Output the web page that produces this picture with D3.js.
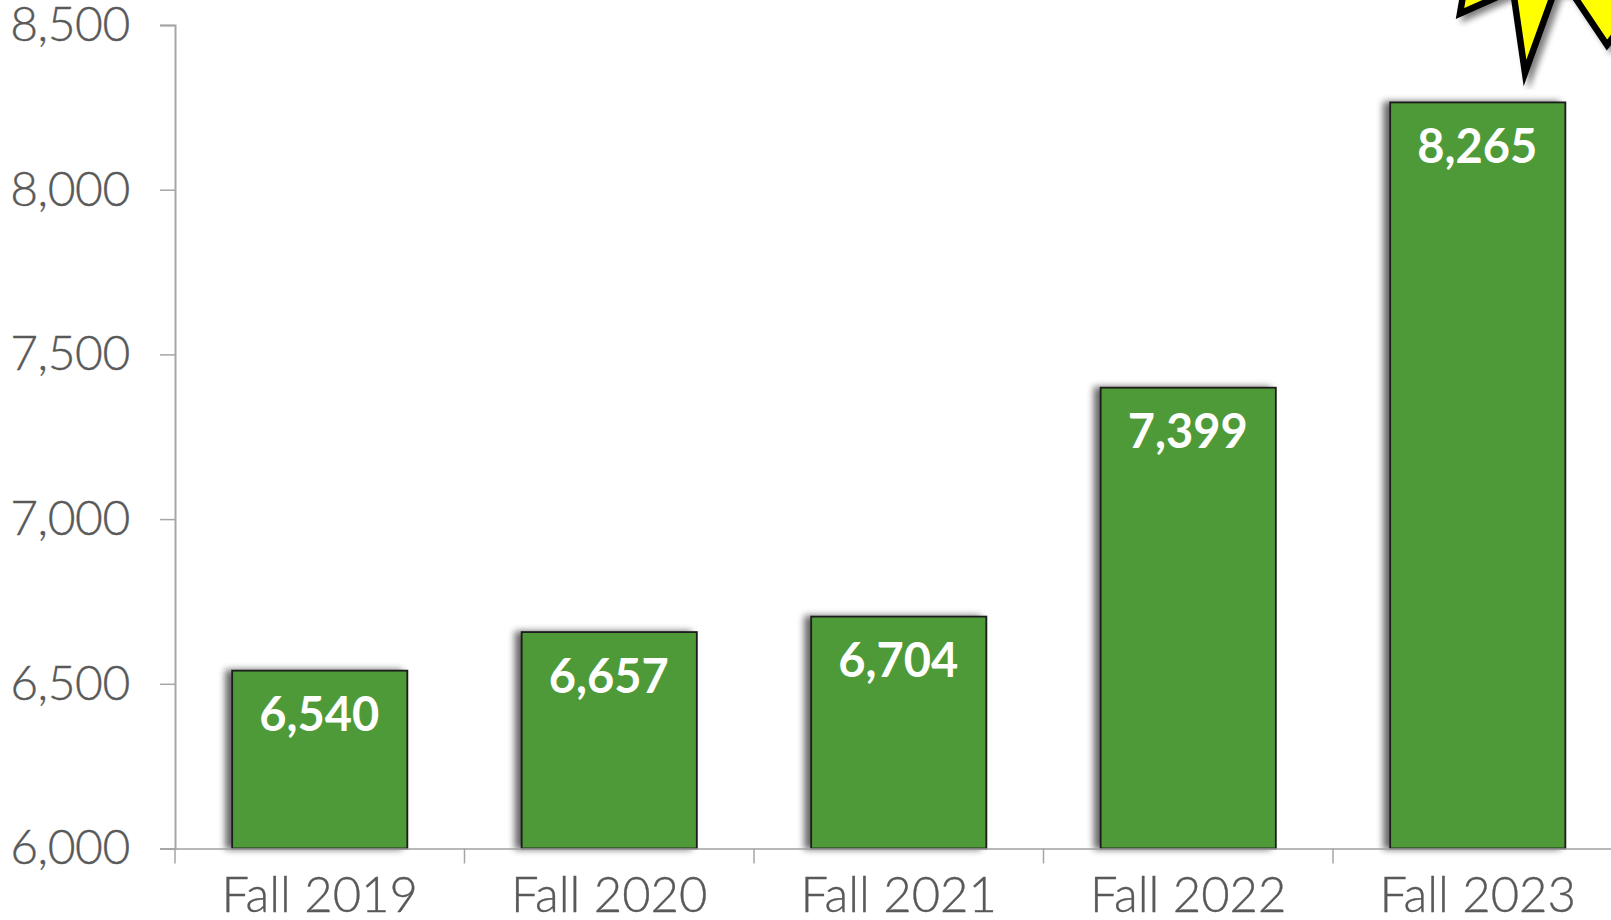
<!DOCTYPE html>
<html>
<head>
<meta charset="utf-8">
<script src="https://cdn.jsdelivr.net/npm/d3@7"></script>
<style>
html, body { margin: 0; padding: 0; background: #fff; overflow: hidden; }
svg { display: block; }
.tick-label { font-family: Lato, "Open Sans", sans-serif; font-weight: 300; fill: #595959; stroke: #595959; stroke-width: 0.35px; font-size: 49px; }
.y-label { font-size: 48px; letter-spacing: -0.4px; }
.bar-label { font-family: Lato, "Open Sans", sans-serif; font-weight: 700; fill: #fff; font-size: 47px; }
</style>
</head>
<body>
<div id="chart"></div>
<script>
const categories = ["Fall 2019", "Fall 2020", "Fall 2021", "Fall 2022", "Fall 2023"];
const enrollment = [6540, 6657, 6704, 7399, 8265];
const yTicks = [6000, 6500, 7000, 7500, 8000, 8500];

const svg = d3.select("#chart").append("svg")
    .attr("width", 1611)
    .attr("height", 920);

const defs = svg.append("defs");

function addShadow(id, dx, dy, blur, opacity) {
    const f = defs.append("filter").attr("id", id)
        .attr("x", "-20%").attr("y", "-20%").attr("width", "140%").attr("height", "140%");
    f.append("feGaussianBlur").attr("in", "SourceAlpha").attr("stdDeviation", blur).attr("result", "b");
    f.append("feOffset").attr("in", "b").attr("dx", dx).attr("dy", dy).attr("result", "o");
    f.append("feComponentTransfer").attr("in", "o").attr("result", "s")
        .append("feFuncA").attr("type", "linear").attr("slope", opacity);
    const merge = f.append("feMerge");
    merge.append("feMergeNode").attr("in", "s");
    merge.append("feMergeNode").attr("in", "SourceGraphic");
}
addShadow("barShadow", -6, 0, 3.5, 0.6);
addShadow("starShadow", 5, 4, 3, 0.5);

const plotLeft = 175, baseline = 848.5, plotTop = 25, step = 289.5;

const x = d3.scaleBand()
    .domain(categories)
    .range([plotLeft, plotLeft + step * categories.length])
    .paddingInner(0.395)
    .paddingOuter(0.1975);
const y = d3.scaleLinear().domain([6000, 8500]).range([baseline, plotTop]);

// y axis
const yAxis = svg.append("g")
    .attr("transform", `translate(${plotLeft},0)`)
    .call(d3.axisLeft(y).tickValues(yTicks).tickSize(15).tickPadding(30).tickFormat(d3.format(",")));
yAxis.select(".domain").attr("stroke", "#a6a6a6").attr("stroke-width", 2);
yAxis.selectAll(".tick line").attr("stroke", "#a6a6a6").attr("stroke-width", 1.5);
yAxis.selectAll("text").attr("class", "tick-label y-label").attr("font-family", null).attr("font-size", null).attr("fill", null);

// bars
svg.append("g").selectAll("rect")
    .data(enrollment)
    .enter().append("rect")
    .attr("x", (d, i) => x(categories[i]))
    .attr("y", d => y(d))
    .attr("width", x.bandwidth())
    .attr("height", d => baseline - y(d))
    .attr("fill", "#4f9a39")
    .attr("stroke", "#1a1a1a")
    .attr("stroke-width", 1.8)
    .attr("filter", "url(#barShadow)");

svg.append("g").selectAll("text")
    .data(enrollment)
    .enter().append("text")
    .attr("class", "bar-label")
    .attr("x", (d, i) => x(categories[i]) + x.bandwidth() / 2 - 0.5)
    .attr("y", d => y(d) + 60.5)
    .attr("text-anchor", "middle")
    .text(d3.format(","));

// x axis goes over the bars
const xAxis = svg.append("g")
    .attr("transform", `translate(0,${baseline})`)
    .call(d3.axisBottom(x).tickSize(0).tickPadding(29));
xAxis.select(".domain").attr("stroke", "#a0a0a0").attr("stroke-width", 1.5);
xAxis.selectAll("text").attr("class", "tick-label").attr("font-family", null).attr("font-size", null).attr("fill", null);

// ticks sit between the categories
svg.append("g").selectAll("line")
    .data(d3.range(categories.length + 1))
    .enter().append("line")
    .attr("x1", i => plotLeft + i * x.step())
    .attr("x2", i => plotLeft + i * x.step())
    .attr("y1", baseline)
    .attr("y2", baseline + 15)
    .attr("stroke", "#a6a6a6")
    .attr("stroke-width", 1.5);

// burst callout, cut off by the top of the picture
svg.append("path")
    .attr("d", "M1464,-10 L1460,13.5 L1495,-2 L1513,-10 L1525,73 L1555,-10 L1570,-10 L1607,45 L1650,-10 Z")
    .attr("fill", "#ffff00")
    .attr("stroke", "#000")
    .attr("stroke-width", 6.5)
    .attr("stroke-miterlimit", 20)
    .attr("filter", "url(#starShadow)");
</script>
</body>
</html>
